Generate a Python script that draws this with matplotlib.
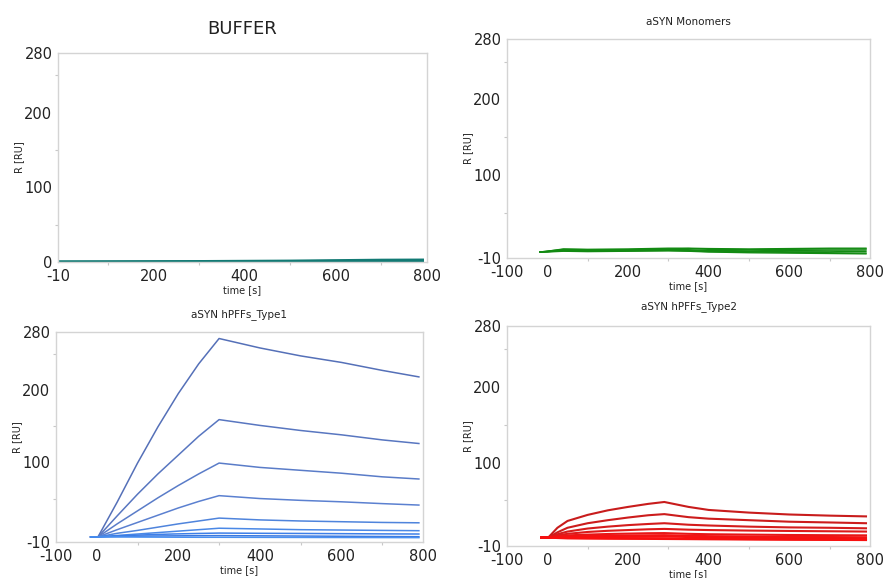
import matplotlib.pyplot as plt
from matplotlib.ticker import FixedLocator

plt.rcParams['axes.unicode_minus'] = False

# --- data ---
# BUFFER
t_buf = [-10, 100, 200, 300, 400, 500, 600, 700, 790]
buf_runs = [
    [0, 0.2, 0.4, 0.6, 0.9, 1.2, 1.8, 2.4, 2.6],
    [0, 0.0, 0.1, 0.2, 0.3, 0.5, 0.8, 1.2, 1.3],
]

# aSYN Monomers
t_mono = [-18, 0, 40, 100, 200, 300, 350, 400, 500, 600, 700, 790]
mono_runs = [
    [-2, -1.0, 2.0, 1.5, 2.0, 3.0, 3.0, 2.5, 2.0, 2.5, 3.0, 3.0],
    [-2, -1.0, 1.5, 1.0, 1.0, 2.0, 2.5, 1.5, 1.0, 1.5, 2.0, 2.0],
    [-2, -1.5, 0.5, 0.0, 0.5, 1.5, 1.0, 0.0, -0.5, 0.0, 0.5, 0.5],
    [-2, -1.5, 0.0, -0.5, 0.0, 0.5, 0.0, -1.0, -1.5, -1.0, -1.0, -1.5],
    [-2, -1.5, -0.5, -1.0, -0.5, 0.0, -0.5, -1.5, -2.0, -2.5, -3.0, -3.5],
    [-2, -2.0, -1.0, -1.5, -1.0, -0.5, -1.0, -2.0, -3.0, -3.5, -4.0, -4.5],
]

# aSYN hPFFs_Type1
t_type1 = [-15, 3, 50, 100, 150, 200, 250, 300, 400, 500, 600, 700, 790]
type1_runs = [
    [-3, -3, 45, 99, 149, 195, 236, 271, 258, 247, 238, 227, 218],
    [-3, -3, 26, 56, 84, 110, 136, 159, 151, 144, 138, 131, 126],
    [-3, -3, 15, 33, 51, 68, 84, 99, 93, 89, 85, 80, 77],
    [-3, -3, 7, 17, 27, 37, 46, 54, 50, 47.5, 45.5, 43, 41],
    [-3, -3, 2, 6, 10.5, 15, 19, 23, 20.5, 19, 18, 17, 16.5],
    [-3, -3, -1, 1, 3, 5, 7, 9, 8, 7, 6.5, 6, 5.6],
    [-3, -3, -1.5, -0.5, 0.5, 1.2, 1.8, 2.3, 2, 1.8, 1.5, 1.2, 1],
    [-3, -3, -2.5, -2, -1.7, -1.5, -1.3, -1.2, -1.5, -1.8, -2.1, -2.4, -2.7],
    [-3, -3, -3, -3.2, -3.3, -3.4, -3.5, -3.5, -3.6, -3.7, -3.8, -3.9, -4],
]
type1_colors = ['#5570b8', '#5876c0', '#5a7cc8', '#5b80d0', '#4f84dc',
                '#4a88e6', '#3d7fe8', '#3a78e0', '#4a90f0']

# aSYN hPFFs_Type2
t_type2 = [-15, 2, 25, 50, 100, 150, 200, 250, 290, 350, 400, 500, 600, 700, 790]
type2_runs = [
    [1, 1, 14, 23, 31, 37, 41.5, 45.5, 48, 41.5, 37.5, 34, 31.5, 30, 29],
    [1, 1, 8, 14, 20, 24, 27.5, 30.5, 32, 28, 26, 24, 22, 21, 20],
    [1, 1, 5.5, 9, 13, 15.5, 17.5, 19, 20, 18, 17, 15.5, 14.5, 14, 13.3],
    [1, 1, 4, 6, 8.5, 10, 11, 12, 12.5, 11.5, 11, 10.3, 9.8, 9.4, 9],
    [1, 1, 2.8, 4, 5, 5.8, 6.3, 6.8, 7, 6, 5.5, 5, 4.5, 4.2, 4],
    [1, 1, 2, 2.6, 3.2, 3.6, 3.9, 4.1, 4.3, 3.5, 3, 2.5, 2, 1.8, 1.5],
    [1, 1, 1.4, 1.7, 2, 2.2, 2.4, 2.5, 2.6, 1.8, 1.3, 0.8, 0.4, 0, -0.3],
    [1, 1, 1, 0.8, 0.6, 0.5, 0.4, 0.3, 0.2, -0.3, -0.6, -0.9, -1.2, -1.5, -1.8],
    [1, 1, 0.5, 0, -0.3, -0.5, -0.6, -0.7, -0.8, -1, -1.2, -1.5, -1.8, -2, -2.2],
]
type2_colors = ['#c81c1c', '#cc1c1c', '#d41c1c', '#dc1a1a', '#e81616',
                '#f01414', '#f41212', '#f81010', '#f81010']

spine_color = '#d4d4d4'
text_color = '#222222'


def style_axis(ax, xlim, xticks, ylim, yticks, xminor, yminor):
    ax.set_xlim(*xlim)
    ax.set_ylim(*ylim)
    ax.set_xticks(xticks)
    ax.set_yticks(yticks)
    ax.xaxis.set_minor_locator(FixedLocator(xminor))
    ax.yaxis.set_minor_locator(FixedLocator(yminor))
    for s in ax.spines.values():
        s.set_color(spine_color)
        s.set_linewidth(1.0)
    ax.tick_params(which='major', length=0, labelsize=10.5, labelcolor=text_color)
    ax.tick_params(axis='x', which='major', pad=5)
    ax.tick_params(axis='y', which='major', pad=4)
    ax.tick_params(which='minor', length=2.5, width=0.8, color='#c8c8c8',
                   direction='out')
    ax.set_xlabel('time [s]', fontsize=7, color=text_color, labelpad=1)
    ax.set_ylabel('R [RU]', fontsize=7, color=text_color, labelpad=0)


fig = plt.figure(figsize=(8.83, 5.78), dpi=100)

ax1 = fig.add_axes([0.0657, 0.5467, 0.4179, 0.3616])
ax2 = fig.add_axes([0.5742, 0.5536, 0.4111, 0.3789])
ax3 = fig.add_axes([0.0634, 0.0623, 0.4156, 0.3633])
ax4 = fig.add_axes([0.5742, 0.0554, 0.4111, 0.3806])

for run in buf_runs:
    ax1.plot(t_buf, run, color='#127a74', lw=2.2)
style_axis(ax1, (-10, 800), [-10, 200, 400, 600, 800], (0, 280), [0, 100, 200, 280],
           [100, 300, 500, 700], [50, 150, 250])
ax1.set_title('BUFFER', fontsize=13, color=text_color, pad=14)

for run in mono_runs:
    ax2.plot(t_mono, run, color='#128a12', lw=1.0)
style_axis(ax2, (-100, 800), [-100, 0, 200, 400, 600, 800], (-10, 280), [-10, 100, 200, 280],
           [100, 300, 500, 700], [50, 150, 250])
ax2.set_title('aSYN Monomers', fontsize=7.5, color=text_color, pad=10)

for run, c in zip(type1_runs, type1_colors):
    ax3.plot(t_type1, run, color=c, lw=1.1)
style_axis(ax3, (-100, 800), [-100, 0, 200, 400, 600, 800], (-10, 280), [-10, 100, 200, 280],
           [100, 300, 500, 700], [50, 150, 250])
ax3.set_title('aSYN hPFFs_Type1', fontsize=7.5, color=text_color, pad=11)

for run, c in zip(type2_runs, type2_colors):
    ax4.plot(t_type2, run, color=c, lw=1.5)
style_axis(ax4, (-100, 800), [-100, 0, 200, 400, 600, 800], (-10, 280), [-10, 100, 200, 280],
           [100, 300, 500, 700], [50, 150, 250])
ax4.set_title('aSYN hPFFs_Type2', fontsize=7.5, color=text_color, pad=12)

fig.savefig('out.png', dpi=100)
